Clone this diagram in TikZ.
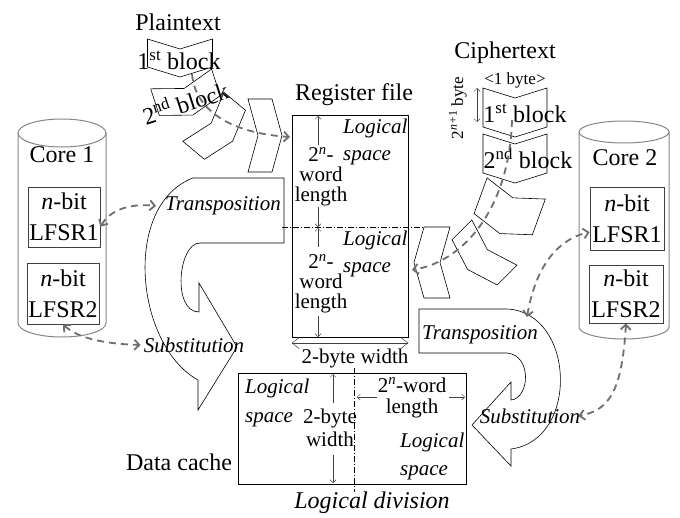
\documentclass[tikz,border=0pt]{standalone}
\usepackage{fontspec}
\setmainfont{Liberation Serif}
\usetikzlibrary{arrows.meta}
\definecolor{linkgray}{HTML}{6E6E6E}
\definecolor{coregray}{HTML}{858585}

\begin{document}
\begin{tikzpicture}[x=1pt,y=-1pt,
  big/.style={font=\fontsize{24}{24}\selectfont, inner sep=0pt},
  small/.style={font=\fontsize{17}{17}\selectfont, inner sep=0pt},
  mid/.style={font=\fontsize{21}{20}\selectfont, inner sep=0pt, align=center},
  lbl/.style={font=\fontsize{21}{27}\selectfont\itshape, inner sep=0pt, align=left},
  core/.style={draw=coregray, line width=1pt},
  lfsr/.style={draw=black!75, line width=0.8pt, inner sep=0pt, align=center,
    font=\fontsize{24}{31}\selectfont},
  flow/.style={draw, line width=0.6pt},
  link/.style={draw=linkgray, line width=1.8pt, dash pattern=on 7pt off 5pt,
    {Straight Barb[length=5pt,width=10pt]}-{Straight Barb[length=5pt,width=10pt]}},
  flowlink/.style={draw=linkgray, line width=1.8pt, dash pattern=on 7pt off 5pt,
    -{Straight Barb[length=5pt,width=10pt]}},
  dim/.style={draw=black!75, line width=0.5pt, -{Straight Barb[length=3pt,width=6pt]}},
  pics/blk/.style 2 args={code={
    \draw[line width=0.6pt] (-#1/2,-#2/2) -- (0,-#2/2+10) -- (#1/2,-#2/2)
      -- (#1/2,#2/2-10) -- (0,#2/2) -- (-#1/2,#2/2-10) -- cycle;}}]
\useasboundingbox (0,0) rectangle (680,517);

% plaintext blocks
\node[big] (ptxt) at (178,22) {Plaintext};
\pic at (180,58) {blk={65}{38}};
\pic[rotate=18] at (187,97) {blk={64}{38}};
\pic[rotate=50] at (218,129) {blk={64}{38}};
\pic[rotate=90] at (265,135.5) {blk={73}{34}};
\node[big] (p1) at (179,60) {1\textsuperscript{st} block};
\node[big, rotate=18] (p2) at (185,102) {2\textsuperscript{nd} block};

% ciphertext blocks
\node[big] (ctxt) at (505,53) {Ciphertext};
\node[small] (cw) at (515,80) {<1 byte>};
\node[small, rotate=90] (ch) at (458,108) {2\textsuperscript{\itshape n+\upshape 1} byte};
\draw[dim, {Straight Barb[length=3pt,width=6pt]}-{Straight Barb[length=3pt,width=6pt]}] (477,88) -- (477,122);
\pic at (515,112.5) {blk={64}{49}};
\pic at (515,158.5) {blk={64}{49}};
\pic[rotate=-20] at (508,211) {blk={62}{48}};
\pic[rotate=-45] at (481,256) {blk={64}{38}};
\pic[rotate=-90] at (432,262.5) {blk={71}{36}};
\node[big] (c1) at (525,113) {1\textsuperscript{st} block};
\node[big] (c2) at (528,158) {2\textsuperscript{nd} block};

% register file
\node[big] (rftxt) at (354,95) {Register file};
\node[draw, line width=0.6pt, minimum width=116pt, minimum height=222pt, inner sep=0pt] (rf) at (350,226) {};
\draw[line width=0.5pt, dash pattern=on 6pt off 2pt on 1pt off 2pt] (282,227) -- (423,227);
\draw[dim] (318,145) -- (318,116);
\draw[dim] (318,207) -- (318,227);
\draw[dim] (318,247) -- (318,228);
\draw[dim] (318,316) -- (318,337);
\node[mid] (rfa) at (321,177) {2\textsuperscript{\itshape n}-\\word\\length};
\node[mid] (rfb) at (321,284) {2\textsuperscript{\itshape n}-\\word\\length};
\node[lbl, anchor=west] (rfla) at (343,141.5) {Logical\\space};
\node[lbl, anchor=west] (rflb) at (343,254) {Logical\\space};
\draw[draw=black!75, line width=0.5pt, {Straight Barb[length=7pt,width=11pt]}-{Straight Barb[length=7pt,width=11pt]}] (rf.south west |- 0,343) -- (rf.south east |- 0,343);
\node[mid] (rfw) at (355,358) {2-byte width};

% transposition / substitution, left
\draw[flow] (193,178) -- (284,178) -- (284,243) -- (200,243)
  .. controls (178,243) and (172,312) .. (199,312)
  -- (199,283) -- (237,347) -- (198,410) -- (198,380)
  .. controls (135,345) and (122,205) .. (193,178);
\node[lbl] (tl) at (223,206) {Transposition};
\node[lbl] (sl) at (194,345) {Substitution};

% transposition / substitution, right
\draw[flow] (419,309) -- (507,309)
  .. controls (575,312) and (580,440) .. (511,449)
  -- (511,466) -- (472,425) -- (511,382) -- (511,400)
  .. controls (530,398) and (532,355) .. (507,353) -- (419,353) -- cycle;
\node[lbl] (tr) at (480,335) {Transposition};
\node[lbl] (sr) at (530,416) {Substitution};
\coordinate (trin) at (527,317);

% core 1
\draw[core] (18,133) -- (18,323) arc[start angle=180, end angle=0, x radius=44, y radius=14] -- (106,133);
\draw[core] (62,133) ellipse [x radius=44, y radius=14];
\node[big] (k1) at (62,155) {Core 1};
\node[lfsr, minimum width=72pt, minimum height=60pt] (l1a) at (64,217) {\textit{n}-bit\\LFSR1};
\node[lfsr, minimum width=72pt, minimum height=61pt] (l1b) at (63,293.5) {\textit{n}-bit\\LFSR2};

% core 2
\draw[core] (579,132) -- (579,327) arc[start angle=180, end angle=0, x radius=45, y radius=12] -- (669,132);
\draw[core] (624,132) ellipse [x radius=45, y radius=11];
\node[big] (k2) at (625,158) {Core 2};
\node[lfsr, minimum width=74pt, minimum height=63pt] (l2a) at (627,218.5) {\textit{n}-bit\\LFSR1};
\node[lfsr, minimum width=74pt, minimum height=58pt] (l2b) at (626,294) {\textit{n}-bit\\LFSR2};

% data cache
\node[draw, line width=0.6pt, minimum width=228pt, minimum height=111pt, inner sep=0pt] (dc) at (352,428.5) {};
\draw[line width=0.5pt, dash pattern=on 6pt off 2pt on 1pt off 2pt] (354,368) -- (354,492);
\draw[dim] (333,403) -- (333,374);
\draw[dim] (333,455) -- (333,483);
\draw[dim] (377,397) -- (357,397);
\draw[dim] (449,397) -- (465,397);
\node[lbl, anchor=west, font=\fontsize{21}{29}\selectfont\itshape] (dla) at (245,402.5) {Logical\\space};
\node[mid, font=\fontsize{21}{23}\selectfont] (dw) at (330,427.5) {2-byte\\width};
\node[mid, font=\fontsize{21}{21}\selectfont] (dl) at (412,397.5) {2\textsuperscript{\itshape n}-word\\length};
\node[lbl, anchor=west, font=\fontsize{21}{28}\selectfont\itshape] (dlb) at (400,456) {Logical\\space};
\node[big] (dctxt) at (179,462) {Data cache};
\node[big, font=\fontsize{24}{24}\selectfont\itshape] (ldiv) at (372,503) {Logical division};

% data flow
\coordinate (pout) at (192,74);
\coordinate (rfin) at (290,137);
\draw[flowlink] (pout) .. controls (195,110) and (230,133) .. (rfin);
\coordinate (cout) at (512,120);
\coordinate (rfout) at (412,270);
\draw[flowlink] (cout) .. controls (510,200) and (470,260) .. (rfout);

% key streams
\draw[link] (l1a.-15) .. controls (110,210) and (130,203) .. ([xshift=-9pt]tl.west);
\draw[link] (l1b.south) .. controls (80,340) and (110,344) .. ([xshift=-3pt]sl.west);
\draw[link] (trin) .. controls (535,270) and (555,240) .. (l2a.200);
\draw[link] (l2b.south) .. controls (622,390) and (610,410) .. ([xshift=-2pt]sr.east);
\end{tikzpicture}
\end{document}
